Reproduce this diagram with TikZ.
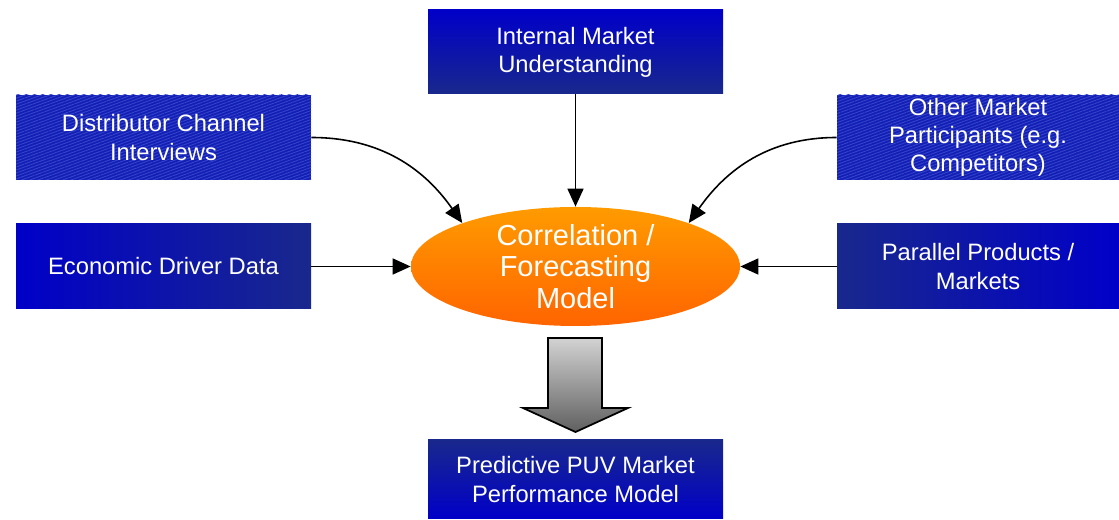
\documentclass[tikz,border=0pt]{standalone}
\usepackage{fontspec}
\setmainfont{Liberation Sans}
\usetikzlibrary{shapes.geometric, arrows.meta, patterns.meta}

\definecolor{boxblue}{RGB}{0,0,200}
\definecolor{boxnavy}{RGB}{25,40,140}
\definecolor{hatchblue}{RGB}{20,30,180}
\definecolor{hatchline}{RGB}{50,70,205}
\definecolor{modeltop}{RGB}{255,155,0}
\definecolor{modelbot}{RGB}{255,100,0}

\tikzset{
	src/.style = {rectangle, minimum width = 5.9cm, minimum height = 1.7cm, inner sep = 0pt,
		text = white, align = center, font = \fontsize{13.5}{16}\selectfont},
	hatched/.style = {src, fill = hatchblue,
		postaction = {pattern = {Lines[angle = 20, distance = 1.6pt, line width = 0.5pt]}, pattern color = hatchline}},
	feed/.style = {line width = 0.9pt, -{Triangle[length = 0.36cm, width = 0.32cm]}}
}

\begin{document}
\begin{tikzpicture}
			\useasboundingbox (0, 0) rectangle (22.38, 10.4);
			% inputs
			\node[src, top color = boxblue, bottom color = boxnavy, minimum height = 1.68cm] (internal) at (11.51, 9.36) {Internal Market\\Understanding};
			\node[hatched] (distributor) at (3.27, 7.65) {Distributor Channel\\Interviews};
			\node[hatched, minimum width = 5.64cm] (participants) at (19.56, 7.65) {Other Market\\Participants (e.g.\\Competitors)};
			\node[src, left color = boxblue, right color = boxnavy] (economic) at (3.27, 5.07) {Economic Driver Data};
			\node[src, left color = boxnavy, right color = boxblue, minimum width = 5.64cm] (parallel) at (19.56, 5.07) {Parallel Products /\\Markets};
			% model
			\node[ellipse, minimum width = 6.58cm, minimum height = 2.38cm, inner sep = 0pt, top color = modeltop, bottom color = modelbot, text = white, align = center, font = \fontsize{16.5}{17.8}\selectfont] (model) at (11.51, 5.07) {Correlation /\\Forecasting\\Model};
			\node[src, top color = boxnavy, bottom color = boxblue, minimum height = 1.58cm] (predictive) at (11.51, 0.81) {Predictive PUV Market\\Performance Model};
			% connectors
			\draw[feed] (internal) -- (model);
			\draw[feed] (distributor.east) to[out = 0, in = 125] (model.159);
			\draw[feed] (participants.west) to[out = 180, in = 55] (model.21);
			\draw[feed] (economic) -- (model);
			\draw[feed] (parallel) -- (model);
			\draw[line width = 1pt, top color = gray!35, bottom color = gray!75!black] (10.96, 3.64) -- (12.04, 3.64) -- (12.04, 2.24) -- (12.56, 2.24) -- (11.51, 1.76) -- (10.46, 2.24) -- (10.96, 2.24) -- cycle;
		\end{tikzpicture}
\end{document}
